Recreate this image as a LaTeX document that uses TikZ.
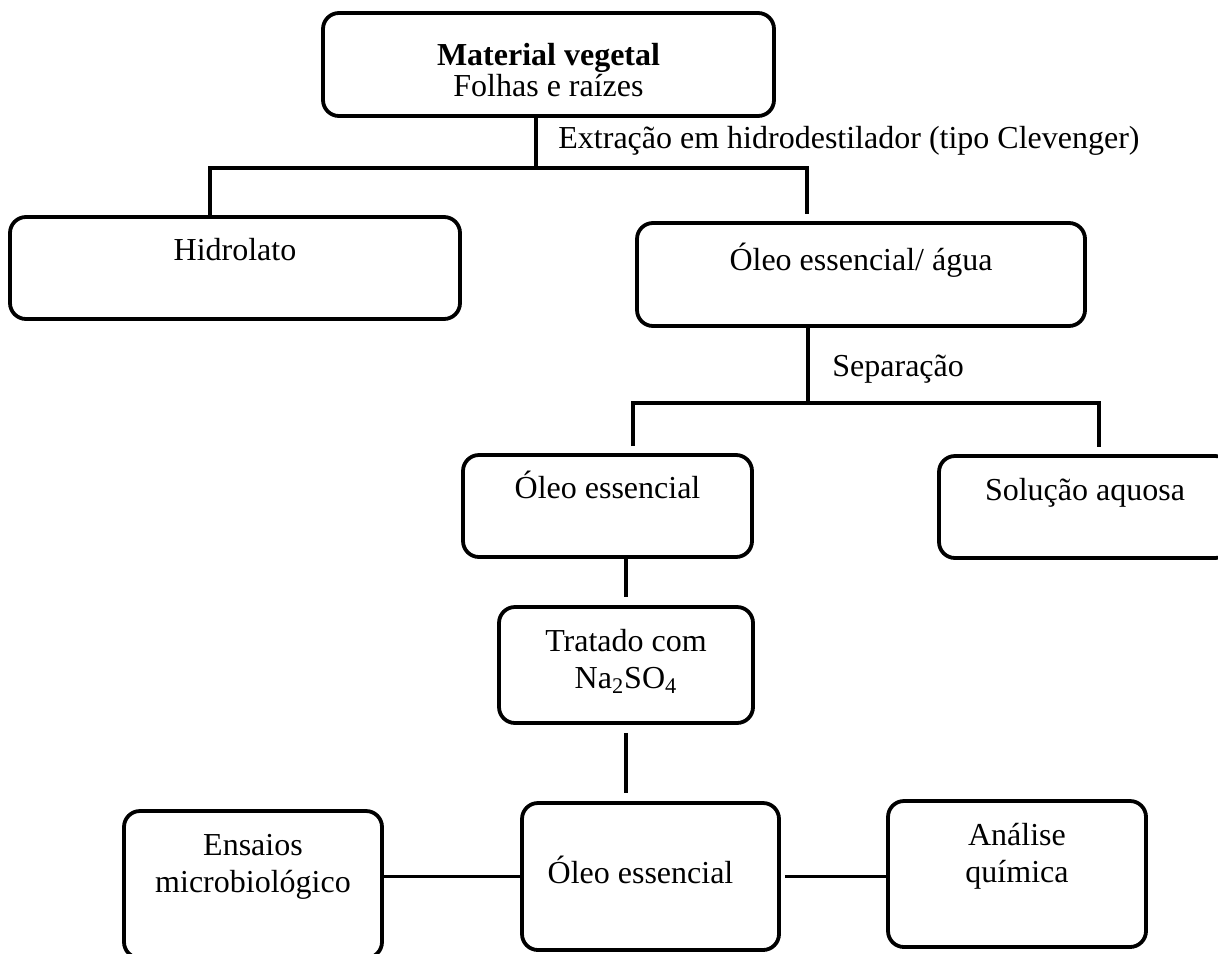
\documentclass[tikz,border=0pt]{standalone}
\usepackage{fontspec}
\setmainfont{Liberation Serif}
\usepackage{tikz}
\usetikzlibrary{positioning,calc}

\begin{document}
\begin{tikzpicture}[x=0.5pt, y=-0.5pt, font=\fontsize{16}{18.5}\selectfont,
    box/.style={draw, line width=1.9pt, rounded corners=8pt, inner sep=0pt, align=center, text height=0pt},
    link/.style={line width=1.6pt}]
    \useasboundingbox (0,0) rectangle (1218,953);

    % Plant material
    \node[box, minimum width=225.5pt, minimum height=51.5pt, text height=33pt, text depth=0.8pt] (mat) at (548.5,64.5) {\textbf{Material vegetal}\\[-3pt]Folhas e raízes};

    % Extraction products
    \node[box, minimum width=225pt, minimum height=51pt, text depth=8pt] (hid) at (235,268) {Hidrolato};
    \node[box, minimum width=224pt, minimum height=51.5pt, text depth=4.5pt] (agua) at (861,274.5) {Óleo essencial/ água};

    % Separation products
    \node[box, minimum width=144.5pt, minimum height=51pt, text depth=8pt] (oleoA) at (607.5,506) {Óleo essencial};
    \node[box, minimum width=146pt, minimum height=51pt, text depth=7pt] (sol) at (1085,507) {Solução aquosa};

    % Drying
    \node[box, minimum width=127pt, minimum height=58pt, text height=23pt, text depth=0pt] (trat) at (626,665) {Tratado com\\Na\textsubscript{2}SO\textsubscript{4}};

    % Final oil and uses
    \node[box, minimum width=128.5pt, minimum height=73.5pt, text height=6.5pt, text depth=0pt] (oleoB) at (650.5,876.5) {Óleo essencial\hspace*{10pt}};
    \node[box, minimum width=129pt, minimum height=73.5pt, text height=7.5pt, text depth=0pt] (ens) at (253,884.5) {Ensaios\\microbiológico};
    \node[box, minimum width=129pt, minimum height=73pt, text height=8pt, text depth=0pt] (ana) at (1017,874) {Análise\\química};

    % Labels
    \node[anchor=base west, inner sep=0pt] (lblext) at (558,148) {Extração em hidrodestilador (tipo Clevenger)};
    \node[anchor=base west, inner sep=0pt] (lblsep) at (832,376) {Separação};

    % Extraction branches
    \coordinate (ext) at (536,168);
    \coordinate (extL) at (210,168);
    \coordinate (extR) at (807,168);
    \draw[link] (mat.south -| ext) -- (ext);
    \draw[link, shorten >=3.5pt] (hid.north -| extL) -- (extL) -- (extR) -- (agua.north -| extR);

    % Separation branches
    \coordinate (sep) at (808,403);
    \coordinate (sepL) at (633,403);
    \coordinate (sepR) at (1099,403);
    \draw[link] (agua.south -| sep) -- (sep);
    \draw[link, shorten <=3.5pt, shorten >=3.5pt] (oleoA.north -| sepL) -- (sepL) -- (sepR) -- (sol.north -| sepR);

    % Drying chain
    \draw[link, shorten >=4pt] (oleoA.south -| trat.north) -- (trat.north);
    \draw[link, shorten <=4pt, shorten >=4pt] (trat.south) -- (oleoB.north -| trat.south);

    % Uses
    \draw[link] (ens.east |- oleoB.west) -- (oleoB.west);
    \draw[link, shorten <=2pt] (oleoB.east) -- (ana.west |- oleoB.east);
\end{tikzpicture}
\end{document}
